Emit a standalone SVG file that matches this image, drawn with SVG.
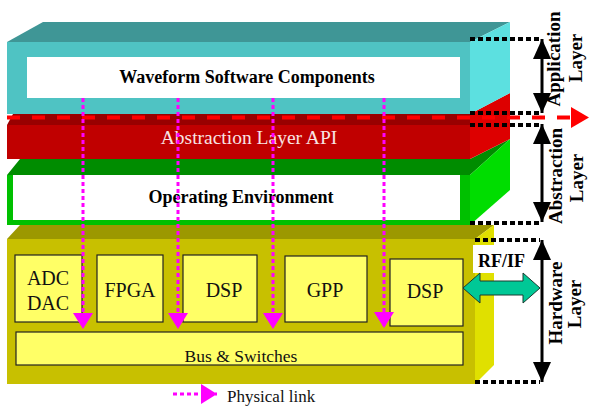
<svg xmlns="http://www.w3.org/2000/svg" width="590" height="408" viewBox="0 0 590 408">
<defs>
<style>
.ser{font-family:"Liberation Serif","Times New Roman",serif;}
.b{font-weight:bold;fill:#000;}
.box{fill:#ffff66;stroke:#222;stroke-width:1.2;}
.lbl{font-family:"Liberation Serif","Times New Roman",serif;font-size:20px;fill:#111;text-anchor:middle;}
.phys{stroke:#ff00ff;stroke-width:3;stroke-dasharray:4 3;fill:none;}
.dotb{stroke:#000;stroke-width:4;stroke-dasharray:5 3;fill:none;}
.vline{stroke:#000;stroke-width:3;fill:none;}
</style>
<marker id="mag" viewBox="0 0 10 10" refX="10" refY="5" markerWidth="16" markerHeight="20" markerUnits="userSpaceOnUse" orient="auto" preserveAspectRatio="none"><path d="M0,0 L10,5 L0,10 Z" fill="#ff00ff"/></marker>
<marker id="blk" viewBox="0 0 10 10" refX="10" refY="5" markerWidth="20" markerHeight="18" markerUnits="userSpaceOnUse" orient="auto-start-reverse" preserveAspectRatio="none"><path d="M0,0 L10,5 L0,10 Z" fill="#000"/></marker>
</defs>
<rect width="590" height="408" fill="#fff"/>

<g id="hardware">
<polygon points="7,239 20,225 494,225 475,239" fill="#9c9800"/>
<polygon points="475,239 494,225 494,365 475,384" fill="#e0e000"/>
<rect x="7" y="239" width="468" height="145" fill="#c8c000"/>
</g>

<g id="operating">
<polygon points="7,175 20,159 470,159 510,139 470,175" fill="#008c00"/>
<polygon points="470,175 510,139 510,190 470,225" fill="#00dd00"/>
<rect x="7" y="175" width="463" height="50" fill="#00c000"/>
<rect x="13" y="175" width="447" height="45" fill="#fff"/>
<text class="ser b" x="241" y="203" font-size="18" text-anchor="middle">Operating  Environment</text>
</g>

<g id="abstraction">
<polygon points="470,114 510,93 510,139 470,159" fill="#dd0000"/>
<polygon points="7,125 13,114 470,114 470,125" fill="#990000"/>
<rect x="7" y="125" width="463" height="34" fill="#c00000"/>
<text class="ser" x="249" y="144" font-size="19.5" fill="#f8e4e4" text-anchor="middle">Abstraction Layer API</text>
</g>

<g id="application">
<polygon points="7,42 43,22 510,22 470,42" fill="#3f9696"/>
<polygon points="470,42 510,22 510,93 470,114" fill="#5ce0e0"/>
<rect x="7" y="42" width="463" height="72" fill="#4fc3c3"/>
<rect x="27" y="57" width="433" height="41" fill="#fff"/>
<text class="ser b" x="247" y="83" font-size="18" text-anchor="middle">Waveform Software Components</text>
</g>

<g id="adcdac"><rect class="box" x="15" y="255" width="67" height="67"/>
<text class="lbl" x="48" y="285">ADC</text><text class="lbl" x="48" y="310">DAC</text></g>
<g id="fpga"><rect class="box" x="97" y="255" width="66" height="67"/><text class="lbl" x="130" y="297">FPGA</text></g>
<g id="dsp1"><rect class="box" x="183" y="255" width="74" height="67"/><text class="lbl" x="224" y="297">DSP</text></g>
<g id="gpp"><rect class="box" x="285" y="256" width="82" height="66"/><text class="lbl" x="325" y="297">GPP</text></g>
<g id="dsp2"><rect class="box" x="390" y="259" width="73" height="67"/><text class="lbl" x="425" y="298">DSP</text></g>
<g id="bus"><rect class="box" x="16" y="332" width="447" height="33"/>
<text class="ser" x="241" y="362" font-size="17.5" fill="#111" text-anchor="middle">Bus &amp; Switches</text></g>

<g id="rfif">
<rect x="473" y="245" width="54" height="28" fill="#fff"/>
<text class="ser b" x="478" y="267" font-size="18">RF/IF</text>
</g>

<g id="labels">
<text class="ser b" font-size="19" text-anchor="middle" transform="translate(560,59) rotate(-90)">Application</text>
<text class="ser b" font-size="19" text-anchor="middle" transform="translate(582,58) rotate(-90)">Layer</text>
<text class="ser b" font-size="19" text-anchor="middle" transform="translate(562,176) rotate(-90)">Abstraction</text>
<text class="ser b" font-size="19" text-anchor="middle" transform="translate(583,178) rotate(-90)">Layer</text>
<text class="ser b" font-size="19" text-anchor="middle" transform="translate(562,303) rotate(-90)">Hardware</text>
<text class="ser b" font-size="19" text-anchor="middle" transform="translate(581,304) rotate(-90)">Layer</text>
</g>

<g id="connectors">
<line x1="7" y1="117.5" x2="572" y2="117.5" stroke="#ff0000" stroke-width="4" stroke-dasharray="13 12"/>
<polygon points="571,107 589,117.5 571,128" fill="#ff0000"/>
<line class="phys" x1="83" y1="98" x2="83" y2="329" marker-end="url(#mag)"/>
<line class="phys" x1="178" y1="98" x2="178" y2="329" marker-end="url(#mag)"/>
<line class="phys" x1="273" y1="98" x2="273" y2="329" marker-end="url(#mag)"/>
<line class="phys" x1="384" y1="98" x2="384" y2="328" marker-end="url(#mag)"/>
<line class="dotb" x1="470" y1="39" x2="540" y2="39"/>
<line class="dotb" x1="470" y1="113" x2="540" y2="113"/>
<line class="dotb" x1="470" y1="125" x2="540" y2="125"/>
<line class="dotb" x1="470" y1="223" x2="540" y2="223"/>
<line class="dotb" x1="475" y1="240" x2="540" y2="240"/>
<line class="dotb" x1="475" y1="382" x2="540" y2="382"/>
<line class="vline" x1="542" y1="39" x2="542" y2="113" marker-start="url(#blk)" marker-end="url(#blk)"/>
<line class="vline" x1="542" y1="124" x2="542" y2="222" marker-start="url(#blk)" marker-end="url(#blk)"/>
<line class="vline" x1="542" y1="240" x2="542" y2="382" marker-start="url(#blk)" marker-end="url(#blk)"/>
<polygon points="463,288 480,273 480,281 523,281 523,273 540,288 523,303 523,295 480,295 480,303" fill="#00c896" stroke="#1a3a30" stroke-width="1"/>
</g>

<g id="legend">
<line class="phys" x1="173" y1="394" x2="217" y2="394" stroke-width="4" marker-end="url(#mag)"/>
<text class="ser" x="227" y="402" font-size="17" fill="#111">Physical link</text>
</g>
</svg>
